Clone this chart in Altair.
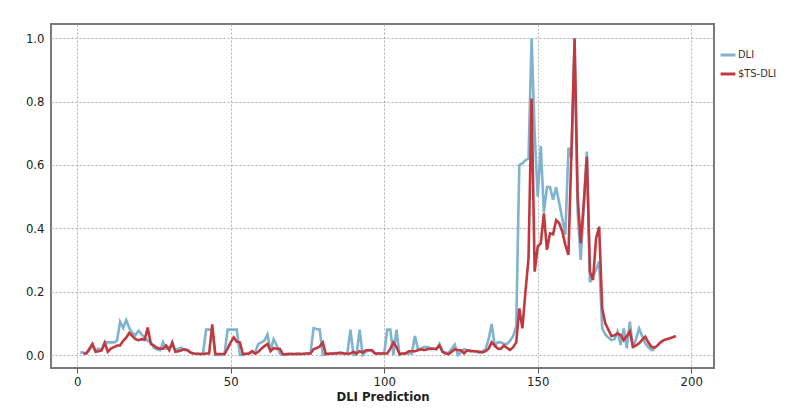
import altair as alt
import pandas as pd

# DLI (observed)
dli_x = list(range(1, 189))
dli_y = [
    0.008, 0.008, 0.005, 0.015, 0.030, 0.015, 0.020, 0.015, 0.040, 0.040,   # 1-10
    0.040, 0.040, 0.045, 0.105, 0.085, 0.110, 0.085, 0.070, 0.063, 0.077,   # 11-20
    0.065, 0.055, 0.045, 0.040, 0.023, 0.018, 0.015, 0.040, 0.020, 0.025,   # 21-30
    0.030, 0.016, 0.020, 0.023, 0.015, 0.015, 0.008, 0.005, 0.004, 0.004,   # 31-40
    0.005, 0.080, 0.080, 0.080, 0.000, 0.000, 0.000, 0.003, 0.080, 0.080,   # 41-50
    0.080, 0.080, 0.000, 0.000, 0.003, 0.005, 0.010, 0.010, 0.035, 0.040,   # 51-60
    0.045, 0.065, 0.015, 0.050, 0.030, 0.005, 0.000, 0.003, 0.004, 0.003,   # 61-70
    0.003, 0.004, 0.003, 0.004, 0.005, 0.005, 0.085, 0.082, 0.080, 0.000,   # 71-80
    0.003, 0.004, 0.005, 0.006, 0.006, 0.008, 0.005, 0.004, 0.080, 0.000,   # 81-90
    0.000, 0.080, 0.000, 0.010, 0.015, 0.015, 0.005, 0.005, 0.005, 0.005,   # 91-100
    0.080, 0.080, 0.000, 0.080, 0.000, 0.005, 0.005, 0.005, 0.005, 0.060,   # 101-110
    0.018, 0.020, 0.025, 0.025, 0.022, 0.020, 0.017, 0.035, 0.010, 0.008,   # 111-120
    0.007, 0.020, 0.033, 0.000, 0.010, 0.018, 0.015, 0.015, 0.013, 0.010,   # 121-130
    0.007, 0.012, 0.018, 0.050, 0.098, 0.030, 0.040, 0.040, 0.035, 0.035,   # 131-140
    0.045, 0.060, 0.090, 0.600, 0.605, 0.615, 0.620, 1.000, 0.700, 0.500,   # 141-150
    0.660, 0.450, 0.530, 0.530, 0.490, 0.530, 0.480, 0.430, 0.380, 0.655,   # 151-160
    0.620, 0.980, 0.450, 0.300, 0.470, 0.642, 0.230, 0.250, 0.270, 0.295,   # 161-170
    0.084, 0.065, 0.055, 0.047, 0.050, 0.074, 0.032, 0.084, 0.021, 0.105,   # 171-180
    0.021, 0.050, 0.084, 0.060, 0.037, 0.025, 0.016, 0.016,                 # 181-188
]

# $TS-DLI (model)
ts_x = list(range(2, 196))
ts_y = [
    0.005, 0.005, 0.020, 0.035, 0.010, 0.012, 0.015, 0.039, 0.010,          # 2-10
    0.020, 0.025, 0.030, 0.030, 0.045, 0.055, 0.070, 0.060, 0.050, 0.047,   # 11-20
    0.050, 0.048, 0.087, 0.035, 0.030, 0.023, 0.020, 0.020, 0.030, 0.015,   # 21-30
    0.040, 0.010, 0.012, 0.015, 0.018, 0.015, 0.007, 0.005, 0.004, 0.003,   # 31-40
    0.003, 0.005, 0.005, 0.097, 0.003, 0.003, 0.003, 0.003, 0.020, 0.040,   # 41-50
    0.056, 0.042, 0.040, 0.003, 0.004, 0.005, 0.012, 0.004, 0.010, 0.020,   # 51-60
    0.028, 0.035, 0.012, 0.022, 0.020, 0.020, 0.003, 0.002, 0.003, 0.003,   # 61-70
    0.003, 0.004, 0.003, 0.004, 0.005, 0.005, 0.018, 0.022, 0.027, 0.040,   # 71-80
    0.003, 0.004, 0.005, 0.005, 0.006, 0.006, 0.005, 0.004, 0.005, 0.010,   # 81-90
    0.005, 0.012, 0.008, 0.015, 0.015, 0.015, 0.005, 0.005, 0.005, 0.005,   # 91-100
    0.005, 0.020, 0.040, 0.025, 0.003, 0.005, 0.005, 0.012, 0.012, 0.012,   # 101-110
    0.015, 0.018, 0.015, 0.018, 0.020, 0.020, 0.020, 0.030, 0.010, 0.005,   # 111-120
    0.003, 0.010, 0.018, 0.015, 0.015, 0.005, 0.015, 0.012, 0.012, 0.012,   # 121-130
    0.010, 0.008, 0.012, 0.020, 0.040, 0.030, 0.020, 0.020, 0.030, 0.022,   # 131-140
    0.016, 0.025, 0.040, 0.147, 0.084, 0.200, 0.305, 0.810, 0.263, 0.342,   # 141-150
    0.353, 0.447, 0.332, 0.384, 0.381, 0.426, 0.416, 0.390, 0.347, 0.316,   # 151-160
    0.650, 1.000, 0.500, 0.353, 0.480, 0.626, 0.263, 0.237, 0.368, 0.405,   # 161-170
    0.147, 0.100, 0.080, 0.060, 0.062, 0.068, 0.063, 0.047, 0.060, 0.074,   # 171-180
    0.026, 0.030, 0.037, 0.048, 0.058, 0.040, 0.026, 0.023, 0.030, 0.040,   # 181-190
    0.047, 0.050, 0.053, 0.056, 0.060,                                      # 191-195
]

series_names = ["DLI", "$TS-DLI"]
series_colors = ["#7fb3cf", "#c1393f"]
x_ticks = [0, 50, 100, 150, 200]
y_ticks = [0.0, 0.2, 0.4, 0.6, 0.8, 1.0]

df_dli = pd.DataFrame({"x": dli_x, "y": dli_y, "series": "DLI"})
df_ts = pd.DataFrame({"x": ts_x, "y": ts_y, "series": "$TS-DLI"})

FONT = "DejaVu Sans Condensed, Liberation Sans Narrow, Liberation Sans"

x_enc = alt.X(
    "x:Q",
    scale=alt.Scale(domain=[-8.5, 207.4], nice=False, zero=False),
    axis=alt.Axis(
        values=x_ticks, title="DLI Prediction", format="d",
        grid=True, gridColor="#b0b0b0", gridDash=[2, 2], gridWidth=1,
        domain=False, ticks=True, tickSize=5, tickColor="#555", tickWidth=1,
        labelFont=FONT, labelFontSize=13, labelColor="#222", labelPadding=2,
        titleFont=FONT, titleFontSize=13, titleFontWeight="bold",
        titleColor="#222", titlePadding=2,
    ),
)
y_enc = alt.Y(
    "y:Q",
    scale=alt.Scale(domain=[-0.041, 1.045], nice=False, zero=False),
    axis=alt.Axis(
        values=y_ticks, title=None, format=".1f",
        grid=True, gridColor="#b0b0b0", gridDash=[2, 2], gridWidth=1,
        domain=False, ticks=False,
        labelFont=FONT, labelFontSize=13, labelColor="#222", labelPadding=7,
    ),
)
color_enc = alt.Color(
    "series:N",
    scale=alt.Scale(domain=series_names, range=series_colors),
    legend=alt.Legend(
        title=None, orient="none", legendX=668, legendY=22,
        symbolType="stroke", symbolStrokeWidth=3, symbolSize=220,
        labelFont=FONT, labelFontSize=11, labelColor="#333",
        labelOffset=1, rowPadding=4,
    ),
)

blue = alt.Chart(df_dli).mark_line(strokeWidth=2.6, clip=True).encode(
    x=x_enc, y=y_enc, color=color_enc
)
red = alt.Chart(df_ts).mark_line(strokeWidth=2.6, clip=True).encode(
    x=x_enc, y=y_enc, color=color_enc
)

chart = (
    alt.layer(blue, red)
    .properties(
        width=663, height=344,
        autosize=alt.AutoSizeParams(type="none"),
        padding={"left": 43, "top": 16, "right": 68, "bottom": 36},
        background="white",
    )
    .configure_view(stroke="#7a7a7a", strokeWidth=2)
)

chart.save("out.html", embed_options={"renderer": "svg", "actions": False})
